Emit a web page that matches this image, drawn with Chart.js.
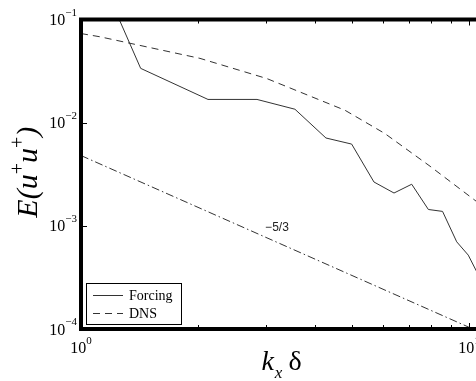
<!DOCTYPE html>
<html><head><meta charset="utf-8">
<script src="https://cdn.jsdelivr.net/npm/chart.js@4/dist/chart.umd.min.js"></script>
<style>
html,body{margin:0;padding:0;background:#fff;overflow:hidden;width:476px;height:381px}
#wrap{position:relative;width:492px;height:381px}
</style></head>
<body><div id="wrap"><canvas id="c"></canvas></div>
<script>
// ---- data ----
const kxForcing = [1.0, 1.425, 2.125, 2.842, 3.56, 4.28, 4.985, 5.69, 6.41, 7.12, 7.86, 8.55, 9.30, 9.96, 10.43, 11.0];
const eForcing  = [0.7, 0.0336, 0.0168, 0.0168, 0.0135, 0.0071, 0.0062, 0.00266, 0.00208, 0.00253, 0.00144, 0.00138, 0.0007, 0.00052, 0.00037, 0.00025];
const kxDNS = [1.0, 1.119, 2.026, 3.01, 4.79, 6.07, 7.94, 10.36, 11.0];
const eDNS  = [0.0731, 0.068, 0.042, 0.0268, 0.0132, 0.00785, 0.00378, 0.00177, 0.0015];
const kxSlope = [1, 10];
const eSlope  = [0.0048, 0.000104];
const slopeLabel = '\u22125/3';
const slopeLabelAt = {x: 3.2, y: 0.00097};
const xTicks = [1, 10];
const xTickExp = ['0', '1'];
const xMinorTicks = [2, 3, 4, 5, 6, 7, 8, 9];
const yTicks = [1e-4, 1e-3, 1e-2, 1e-1];
const yTickExp = ['\u22124', '\u22123', '\u22122', '\u22121'];

const pts = (xs, ys) => xs.map((x, i) => ({x: x, y: ys[i]}));
const SERIF = '"Liberation Serif","DejaVu Serif",serif';
const BASEF = '16px ' + SERIF, SUPF = '11px ' + SERIF;

const framePlugin = {
  id: 'frame',
  afterDatasetsDraw(chart) {
    const {ctx, chartArea: a, scales} = chart;
    ctx.save();
    ctx.strokeStyle = '#000'; ctx.lineWidth = 1;
    const xs = scales.x, ys = scales.y;
    xMinorTicks.forEach(v => {
      const p = Math.round(xs.getPixelForValue(v)) + 0.5;
      ctx.beginPath(); ctx.moveTo(p, a.top); ctx.lineTo(p, a.top + 4);
      ctx.moveTo(p, a.bottom); ctx.lineTo(p, a.bottom - 4); ctx.stroke();
    });
    xTicks.forEach(v => {
      const p = Math.round(xs.getPixelForValue(v)) + 0.5;
      ctx.beginPath(); ctx.moveTo(p, a.top); ctx.lineTo(p, a.top + 6);
      ctx.moveTo(p, a.bottom); ctx.lineTo(p, a.bottom - 6); ctx.stroke();
    });
    yTicks.forEach(v => {
      const p = Math.round(ys.getPixelForValue(v)) + 0.5;
      ctx.beginPath(); ctx.moveTo(a.left, p); ctx.lineTo(a.left + 6, p); ctx.stroke();
    });
    ctx.lineWidth = 4; ctx.strokeStyle = '#000';
    ctx.strokeRect(a.left, a.top, a.right - a.left, a.bottom - a.top);

    // tick labels 10^n
    ctx.fillStyle = '#000'; ctx.textAlign = 'left'; ctx.textBaseline = 'alphabetic';
    ctx.font = BASEF; const w10 = ctx.measureText('10').width;
    yTicks.forEach((v, i) => {
      const p = ys.getPixelForValue(v);
      ctx.font = SUPF; const ws = ctx.measureText(yTickExp[i]).width;
      const right = a.left - 4;
      ctx.font = BASEF; ctx.fillText('10', right - ws - w10, p + 5.5);
      ctx.font = SUPF; ctx.fillText(yTickExp[i], right - ws, p - 4);
    });
    xTicks.forEach((v, i) => {
      const p = xs.getPixelForValue(v);
      ctx.font = SUPF; const ws = ctx.measureText(xTickExp[i]).width;
      const left = p - (w10 + ws) / 2;
      ctx.font = BASEF; ctx.fillText('10', left, a.bottom + 24);
      ctx.font = SUPF; ctx.fillText(xTickExp[i], left + w10, a.bottom + 15);
    });

    // slope label
    ctx.fillStyle = '#222';
    ctx.font = '12px "Liberation Sans", Arial, sans-serif';
    ctx.textAlign = 'center'; ctx.textBaseline = 'middle';
    ctx.fillText(slopeLabel, xs.getPixelForValue(slopeLabelAt.x), ys.getPixelForValue(slopeLabelAt.y));

    // legend
    const bx = a.left + 5, by = a.bottom - 46, bw = 95, bh = 41;
    ctx.fillStyle = '#fff'; ctx.fillRect(bx, by, bw, bh);
    ctx.lineWidth = 1; ctx.strokeStyle = '#000';
    ctx.strokeRect(bx + 0.5, by + 0.5, bw, bh);
    const rows = [chart.data.datasets[0], chart.data.datasets[1]];
    rows.forEach((ds, i) => {
      const yy = by + 12.5 + i * 18;
      ctx.beginPath();
      ctx.setLineDash(ds.borderDash || []);
      ctx.strokeStyle = ds.borderColor; ctx.lineWidth = 1;
      ctx.moveTo(bx + 7, yy); ctx.lineTo(bx + 37, yy); ctx.stroke();
      ctx.setLineDash([]);
      ctx.fillStyle = '#000'; ctx.font = '14px ' + SERIF;
      ctx.textAlign = 'left'; ctx.textBaseline = 'middle';
      ctx.fillText(ds.label, bx + 43, yy + 1);
    });

    // axis titles
    ctx.fillStyle = '#000';
    ctx.textBaseline = 'alphabetic'; ctx.textAlign = 'left';
    const big = 'italic 28px ' + SERIF, sub = 'italic 17px ' + SERIF, up = '28px ' + SERIF;
    ctx.font = big; const wk = ctx.measureText('k').width;
    ctx.font = sub; const wx = ctx.measureText('x').width;
    ctx.font = up; const wd = ctx.measureText('\u03b4').width;
    const gap = 6;
    const tw = wk + wx + gap + wd;
    let cx = (a.left + a.right) / 2 - tw / 2 - 2;
    const base = 370;
    ctx.font = big; ctx.fillText('k', cx, base); cx += wk + 1;
    ctx.font = sub; ctx.fillText('x', cx, base + 8); cx += wx + gap;
    ctx.font = up; ctx.fillText('\u03b4', cx, base);

    // y title: E(u+u+)
    ctx.save();
    ctx.translate(37, (a.top + a.bottom) / 2 - 2);
    ctx.rotate(-Math.PI / 2);
    const bigY = 'italic 30px ' + SERIF, supY = '20px ' + SERIF;
    const parts = [['E(u', bigY, 0], ['+', supY, -13], ['u', bigY, 0], ['+', supY, -13], [')', bigY, 0]];
    let total = 0;
    parts.forEach(p => { ctx.font = p[1]; total += ctx.measureText(p[0]).width; });
    let px = -total / 2;
    parts.forEach(p => { ctx.font = p[1]; ctx.fillText(p[0], px, p[2]); px += ctx.measureText(p[0]).width; });
    ctx.restore();
    ctx.restore();
  }
};

new Chart(document.getElementById('c'), {
  type: 'line',
  data: {
    datasets: [
      {label: 'Forcing', data: pts(kxForcing, eForcing), borderColor: '#333', borderWidth: 1, pointRadius: 0, fill: false, tension: 0},
      {label: 'DNS', data: pts(kxDNS, eDNS), borderColor: '#333', borderWidth: 1, borderDash: [7, 5], pointRadius: 0, fill: false, tension: 0},
      {label: 'slope', data: pts(kxSlope, eSlope), borderColor: '#333', borderWidth: 1, borderDash: [8, 3, 1.5, 3], pointRadius: 0, fill: false, tension: 0}
    ]
  },
  options: {
    responsive: true, maintainAspectRatio: false, animation: false, devicePixelRatio: 1,
    layout: {padding: {left: 0, top: 19.5, right: 7, bottom: 0}},
    plugins: {legend: {display: false}, tooltip: {enabled: false}},
    scales: {
      x: {
        type: 'logarithmic', min: 1, max: 11,
        grid: {display: false, drawTicks: false}, border: {display: false},
        afterBuildTicks: s => { s.ticks = xTicks.map(v => ({value: v})); },
        afterFit: s => { s.height = 52; },
        ticks: {display: false}
      },
      y: {
        type: 'logarithmic', min: 1e-4, max: 1e-1,
        grid: {display: false, drawTicks: false}, border: {display: false},
        afterBuildTicks: s => { s.ticks = yTicks.map(v => ({value: v})); },
        afterFit: s => { s.width = 81; },
        ticks: {display: false}
      }
    }
  },
  plugins: [framePlugin]
});
</script>
</body></html>
